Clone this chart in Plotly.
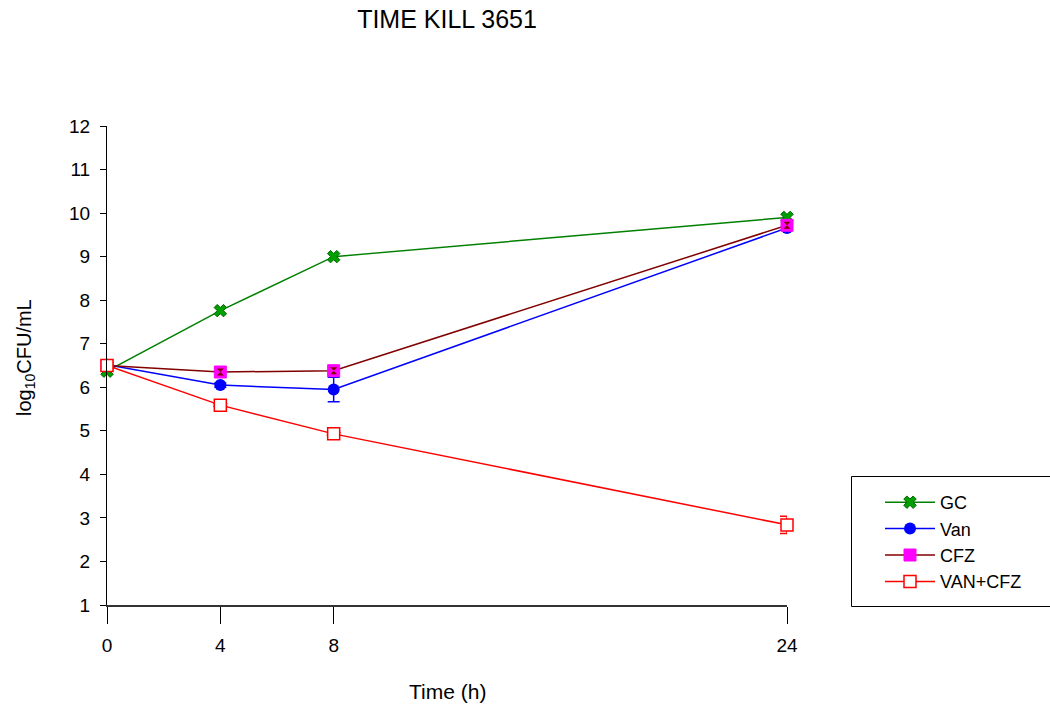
import plotly.graph_objects as go

time_h = [0, 4, 8, 24]
gc = [6.37, 7.76, 9.0, 9.9]
van = [6.52, 6.05, 5.95, 9.66]
cfz = [6.5, 6.35, 6.38, 9.72]
van_cfz = [6.5, 5.59, 4.93, 2.84]

van_err = [0.0, 0.05, 0.28, 0.05]
cfz_err = [0.0, 0.03, 0.1, 0.05]
van_cfz_err = [0.0, 0.03, 0.03, 0.2]

x_ticks = [0, 4, 8, 24]
y_ticks = list(range(1, 13))

FONT = "Liberation Sans, Arial, sans-serif"

fig = go.Figure()

fig.add_trace(go.Scatter(
    x=time_h, y=gc, name="GC", mode="lines+markers",
    line=dict(color="#008000", width=1.5),
    marker=dict(symbol="x", size=11, color="#00A000", line=dict(color="#006400", width=1)),
    cliponaxis=False))

fig.add_trace(go.Scatter(
    x=time_h, y=van, name="Van", mode="lines+markers",
    line=dict(color="#0000FF", width=1.5),
    marker=dict(symbol="circle", size=12, color="#0000FF"),
    error_y=dict(type="data", array=van_err, color="#0000FF", thickness=1.5, width=6),
    cliponaxis=False))

fig.add_trace(go.Scatter(
    x=time_h, y=cfz, name="CFZ", mode="lines+markers",
    line=dict(color="#800000", width=1.5),
    marker=dict(symbol="square", size=12, color="#FF00FF", line=dict(color="#FF00FF", width=1)),
    error_y=dict(type="data", array=cfz_err, color="#800000", thickness=1.5, width=4),
    cliponaxis=False))

fig.add_trace(go.Scatter(
    x=time_h, y=cfz, name="CFZ", mode="markers", showlegend=False,
    marker=dict(symbol="hourglass", size=7, color="#800000"),
    cliponaxis=False))

fig.add_trace(go.Scatter(
    x=time_h, y=van_cfz, name="VAN+CFZ", mode="lines+markers",
    line=dict(color="#FF0000", width=1.5),
    marker=dict(symbol="square", size=12, color="#FFFFFF", line=dict(color="#FF0000", width=1.5)),
    error_y=dict(type="data", array=van_cfz_err, color="#FF0000", thickness=1.5, width=7),
    cliponaxis=False))

L, R, T, B = 107, 263, 126, 105
W, H = 1050, 710
pw = W - L - R
ph = H - T - B

def px_x(p):
    return (p - L) / pw

def px_y(p):
    return (H - B - p) / ph

fig.update_layout(
    width=W, height=H,
    margin=dict(l=L, r=R, t=T, b=B, pad=0),
    paper_bgcolor="white", plot_bgcolor="white",
    font=dict(family=FONT, color="black", size=18),
    title=dict(text="TIME KILL 3651", x=0.5, xref="paper", y=1 - 19 / H, yref="container",
               yanchor="middle", xanchor="center", font=dict(size=25, family=FONT)),
    showlegend=True,
    legend=dict(x=px_x(880), y=px_y(484), xanchor="left", yanchor="top",
                bgcolor="rgba(0,0,0,0)", borderwidth=0, font=dict(size=18, family=FONT),
                itemwidth=50, tracegroupgap=0),
    xaxis=dict(range=[0, 24], tickvals=x_ticks, ticktext=[str(v) for v in x_ticks],
               showgrid=False, zeroline=False, showline=True, linecolor="#333333", linewidth=2,
               ticks="outside", ticklen=17, tickwidth=1, tickcolor="black",
               tickfont=dict(size=19), ticklabelstandoff=5),
    yaxis=dict(range=[1, 12], tickvals=y_ticks, showgrid=False, zeroline=False,
               showline=True, linecolor="black", linewidth=1,
               ticks="outside", ticklen=6, tickwidth=1, tickcolor="black",
               tickfont=dict(size=19), ticklabelstandoff=6),
    shapes=[dict(type="rect", xref="paper", yref="paper",
                 x0=px_x(851.5), x1=px_x(1052), y0=px_y(606.5), y1=px_y(476.5),
                 line=dict(color="black", width=1), fillcolor="rgba(0,0,0,0)", layer="below")],
    annotations=[
        dict(text="Time (h)", xref="paper", yref="paper", x=0.5, y=px_y(692),
             xanchor="center", yanchor="middle", showarrow=False, font=dict(size=21, family=FONT)),
        dict(text="log<sub>10</sub>CFU/mL", xref="paper", yref="paper", x=px_x(25), y=px_y(358),
             xanchor="center", yanchor="middle", showarrow=False, textangle=-90,
             font=dict(size=20, family=FONT)),
    ],
)

fig.write_html("out.html")
